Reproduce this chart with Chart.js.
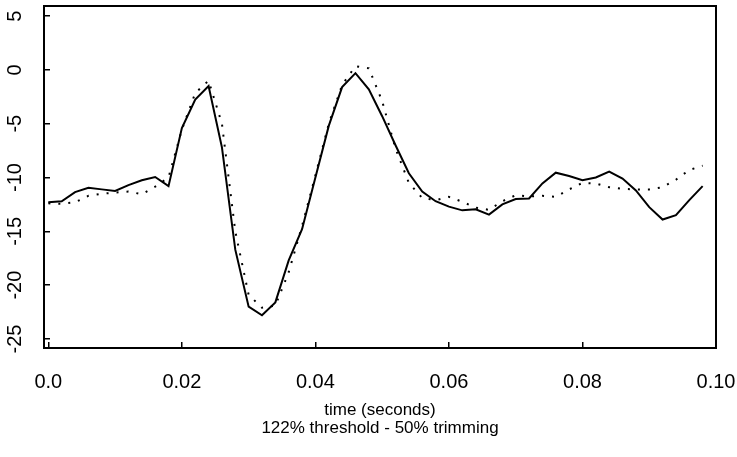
<!DOCTYPE html>
<html>
<head>
<meta charset="utf-8">
<script src="https://cdn.jsdelivr.net/npm/chart.js@4/dist/chart.umd.min.js"></script>
<style>
  html, body { margin: 0; padding: 0; background: #fff; }
  #wrap { width: 737px; height: 457px; }
</style>
</head>
<body>
<div id="wrap"><canvas id="waveChart"></canvas></div>
<script>
// time grid (seconds), one sample every 0.002 s
const times = [
  0.000, 0.002, 0.004, 0.006, 0.008, 0.010, 0.012, 0.014, 0.016, 0.018,
  0.020, 0.022, 0.024, 0.026, 0.028, 0.030, 0.032, 0.034, 0.036, 0.038,
  0.040, 0.042, 0.044, 0.046, 0.048, 0.050, 0.052, 0.054, 0.056, 0.058,
  0.060, 0.062, 0.064, 0.066, 0.068, 0.070, 0.072, 0.074, 0.076, 0.078,
  0.080, 0.082, 0.084, 0.086, 0.088, 0.090, 0.092, 0.094, 0.096, 0.098
];

// solid curve
const solidValues = [
  -12.3, -12.2, -11.35, -10.95, -11.1, -11.25, -10.7, -10.25, -9.95, -10.8,
  -5.4, -2.75, -1.5, -7.2, -16.7, -22.0, -22.8, -21.6, -17.7, -14.8,
  -10.0, -5.2, -1.6, -0.3, -1.8, -4.3, -7.0, -9.6, -11.3, -12.2,
  -12.7, -13.05, -12.95, -13.45, -12.5, -12.0, -11.95, -10.55, -9.55, -9.85,
  -10.25, -10.0, -9.45, -10.1, -11.2, -12.75, -13.9, -13.5, -12.1, -10.8
];

// dotted curve
const dottedValues = [
  -12.4, -12.45, -12.3, -11.7, -11.5, -11.4, -11.3, -11.55, -10.85, -10.0,
  -5.55, -2.15, -1.0, -5.0, -15.0, -20.9, -22.1, -21.9, -18.8, -14.5,
  -9.8, -5.0, -1.4, 0.35, 0.15, -2.9, -7.3, -10.5, -11.9, -12.1,
  -11.8, -12.25, -12.8, -13.0, -12.2, -11.65, -11.75, -11.7, -11.8, -11.1,
  -10.5, -10.55, -10.9, -11.05, -11.1, -11.1, -10.9, -10.2, -9.3, -8.9
];

const xTicks = [0, 0.02, 0.04, 0.06, 0.08, 0.10];
const xTickLabels = ['0.0', '0.02', '0.04', '0.06', '0.08', '0.10'];
const yTicks = [-25, -20, -15, -10, -5, 0, 5];

const FONT = "'Liberation Sans', Arial, Helvetica, sans-serif";

/* ---------- box round the plot area ---------- */
const frameBox = {
  id: 'frameBox',
  afterDatasetsDraw(chart) {
    const a = chart.chartArea;
    const ctx = chart.ctx;
    ctx.save();
    ctx.strokeStyle = '#000';
    ctx.lineWidth = 2;
    ctx.strokeRect(a.left, a.top, a.right - a.left, a.bottom - a.top);
    ctx.restore();
  }
};

const ctx = document.getElementById('waveChart');

new Chart(ctx, {
  type: 'line',
  data: {
    datasets: [
      {
        label: 'solid',
        data: times.map((t, i) => ({ x: t, y: solidValues[i] })),
        borderColor: '#000',
        borderWidth: 2,
        pointRadius: 0,
        tension: 0,
        fill: false
      },
      {
        label: 'dotted',
        data: times.map((t, i) => ({ x: t, y: dottedValues[i] })),
        borderColor: '#000',
        borderWidth: 2,
        borderDash: [2, 8],
        pointRadius: 0,
        tension: 0,
        fill: false
      }
    ]
  },
  options: {
    responsive: true,
    maintainAspectRatio: false,
    animation: false,
    layout: { padding: { top: 6, right: 21, left: 0, bottom: 0 } },
    plugins: {
      legend: { display: false },
      tooltip: { enabled: false }
    },
    scales: {
      x: {
        type: 'linear',
        min: -0.00065,
        max: 0.1,
        afterBuildTicks: s => { s.ticks = xTicks.map(v => ({ value: v })); },
        afterFit: s => {
          s.height = 109;
          s.paddingLeft = 0;
          s.paddingRight = 0;
        },
        border: { display: false },
        grid: {
          drawOnChartArea: false,
          drawTicks: true,
          tickLength: -6,
          color: '#000',
          lineWidth: 1.5
        },
        ticks: {
          autoSkip: false,
          maxRotation: 0,
          padding: 28,
          color: '#000',
          font: { family: FONT, size: 20 },
          callback: (v) => {
            const k = xTicks.findIndex(t => Math.abs(t - v) < 1e-9);
            return k >= 0 ? xTickLabels[k] : '';
          }
        },
        title: {
          display: true,
          text: ['time (seconds)', '122% threshold - 50% trimming'],
          color: '#000',
          font: { family: FONT, size: 17, lineHeight: 1.05 },
          padding: { top: 0, bottom: 20 }
        }
      },
      y: {
        min: -25.84,
        max: 5.94,
        afterBuildTicks: s => { s.ticks = yTicks.map(v => ({ value: v })); },
        afterFit: s => {
          s.width = 44;
          s.paddingTop = 0;
          s.paddingBottom = 0;
        },
        border: { display: false },
        grid: {
          drawOnChartArea: false,
          drawTicks: true,
          tickLength: -6,
          color: '#000',
          lineWidth: 1.5
        },
        ticks: {
          autoSkip: false,
          minRotation: 90,
          maxRotation: 90,
          crossAlign: 'center',
          padding: 20,
          color: '#000',
          font: { family: FONT, size: 20 },
          callback: v => String(v)
        }
      }
    }
  },
  plugins: [frameBox]
});
</script>
</body>
</html>
